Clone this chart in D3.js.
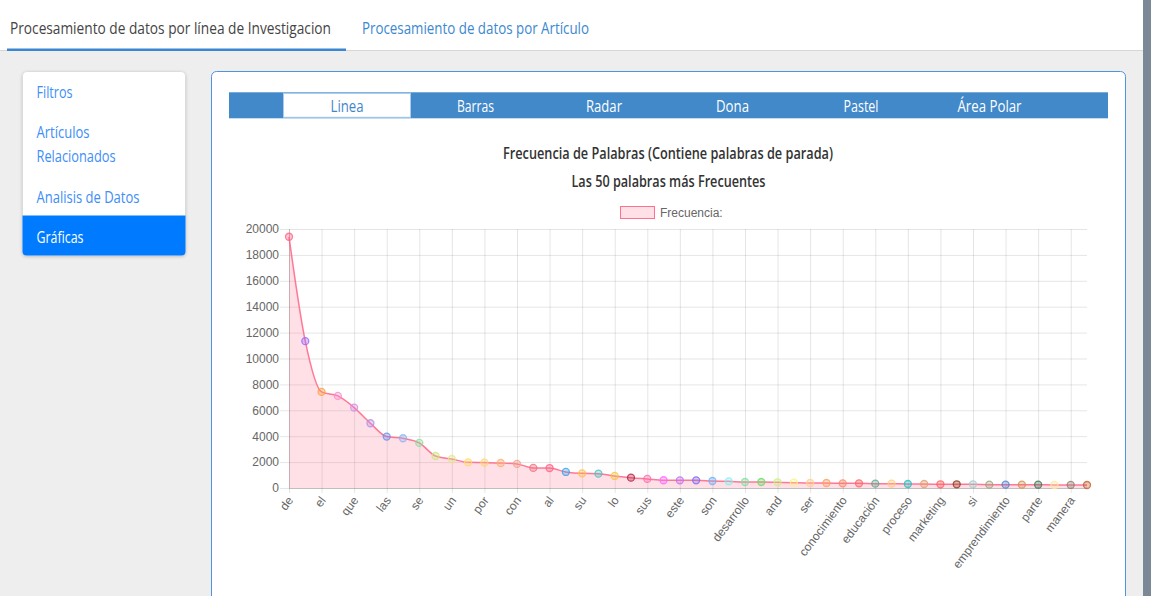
<!DOCTYPE html>
<html>
<head>
<meta charset="utf-8">
<script src="https://cdn.jsdelivr.net/npm/d3@7"></script>
<style>
	body { margin: 0; overflow: hidden; background: #fff; }
	svg { display: block; }
	.ui text { font-family: "Open Sans", "Noto Sans", sans-serif; }
	.chart text { font-family: "Liberation Sans", Arial, sans-serif; }
	.chart .domain { display: none; }
</style>
</head>
<body>
<svg id="page" width="1151" height="596"></svg>
<script>
(function () {

	var navTabs = ["Procesamiento de datos por línea de Investigacion", "Procesamiento de datos por Artículo"];
	var sideItems = ["Filtros", "Artículos", "Relacionados", "Analisis de Datos", "Gráficas"];
	var chartTypes = ["Linea", "Barras", "Radar", "Dona", "Pastel", "Área Polar"];
	var chartTitle = "Frecuencia de Palabras (Contiene palabras de parada)";
	var chartSubtitle = "Las 50 palabras más Frecuentes";
	var seriesName = "Frecuencia:";

	var words = ["de", "la", "el", "en", "que", "y", "las", "los", "se", "a",
		"un", "una", "por", "del", "con", "para", "al", "es", "su", "como",
		"lo", "más", "sus", "o", "este", "entre", "son", "investigación", "desarrollo", "the",
		"and", "of", "ser", "esta", "conocimiento", "estudio", "educación", "también", "proceso", "to",
		"marketing", "sobre", "si", "empresas", "emprendimiento", "social", "parte", "sistema", "manera", "información"];
	var counts = [19400, 11340, 7420, 7110, 6210, 5000, 3970, 3840, 3480, 2470,
		2240, 1980, 1960, 1930, 1860, 1550, 1540, 1240, 1130, 1110,
		930, 800, 700, 600, 590, 590, 540, 515, 465, 465,
		440, 410, 385, 385, 360, 360, 335, 335, 310, 310,
		285, 285, 285, 260, 260, 258, 255, 235, 235, 230];
	var yTicks = [0, 2000, 4000, 6000, 8000, 10000, 12000, 14000, 16000, 18000, 20000];

	// colores de los puntos (uno por palabra)
	var pointColors = ["#ff6384", "#9966ff", "#ff9f40", "#f58fd0", "#d58ee8", "#b48ee8", "#6c8ef0", "#8db4f5", "#88e0a0", "#c8e880",
		"#e0e890", "#ffd966", "#ffd470", "#ffb070", "#f5a08a", "#f07080", "#ff6384", "#36a2eb", "#ffc04d", "#4bc0c0",
		"#f5c542", "#b0203f", "#ff6bb0", "#ff66ff", "#c070f0", "#7b68ee", "#6fb1f7", "#7ff0f0", "#7ee0a0", "#66dd66",
		"#c8f080", "#fff080", "#ffd090", "#ffa060", "#ff8866", "#ff6060", "#5aa890", "#ffcc80", "#20c0c0", "#e0a070",
		"#ff6060", "#8b3a1a", "#a0d0d0", "#a0a080", "#5080d0", "#d09050", "#407050", "#ffe89a", "#908070", "#c06030"];

	var svg = d3.select("#page");
	var ui = svg.append("g").attr("class", "ui");

	function fit(sel, w) {
		return sel.attr("textLength", w).attr("lengthAdjust", "spacingAndGlyphs");
	}

	// fondo de la página
	ui.append("rect").attr("x", 0).attr("y", 0).attr("width", 1151).attr("height", 596).attr("fill", "#fff");
	ui.append("rect").attr("x", 0).attr("y", 51).attr("width", 1143).attr("height", 545).attr("fill", "#eeeeee");
	ui.append("line").attr("x1", 0).attr("x2", 1143).attr("y1", 50.5).attr("y2", 50.5).attr("stroke", "#d6d6d6");
	ui.append("rect").attr("x", 7).attr("y", 48.5).attr("width", 339).attr("height", 2.5).attr("fill", "#3b86d1");
	ui.append("rect").attr("x", 1143).attr("y", 0).attr("width", 8).attr("height", 596).attr("fill", "#7b8996");

	fit(ui.append("text").attr("x", 10).attr("y", 33.5).attr("font-size", 16).attr("fill", "#444").text(navTabs[0]), 321);
	fit(ui.append("text").attr("x", 362).attr("y", 33.5).attr("font-size", 16).attr("fill", "#3c88d0").text(navTabs[1]), 227);

	// menú lateral
	var defs = svg.append("defs");
	var sh = defs.append("filter").attr("id", "sh").attr("x", "-10%").attr("y", "-10%").attr("width", "120%").attr("height", "120%");
	sh.append("feDropShadow").attr("dx", 0).attr("dy", 1).attr("stdDeviation", 1.5).attr("flood-color", "#000").attr("flood-opacity", 0.18);

	ui.append("rect").attr("x", 22.5).attr("y", 71.5).attr("width", 163).attr("height", 184).attr("rx", 4)
		.attr("fill", "#fff").attr("stroke", "#dcdcdc").attr("filter", "url(#sh)");
	ui.append("path").attr("d", "M22.5,215.5H185.5V251.5Q185.5,255.5 181.5,255.5H26.5Q22.5,255.5 22.5,251.5Z").attr("fill", "#007bff");

	var sideY = [97.5, 137.5, 161.5, 202.5, 242.5];
	var sideW = [36, 53, 79, 103, 47];
	sideItems.forEach(function (t, i) {
		fit(ui.append("text").attr("x", 36.5).attr("y", sideY[i]).attr("font-size", 16)
			.attr("fill", i == 4 ? "#fff" : "#3d8ef8").text(t), sideW[i]);
	});

	// tarjeta principal
	ui.append("rect").attr("x", 211.5).attr("y", 71.5).attr("width", 914).attr("height", 620).attr("rx", 5)
		.attr("fill", "#fff").attr("stroke", "#4f95dc");
	ui.append("rect").attr("x", 229).attr("y", 92.3).attr("width", 879).attr("height", 26).attr("fill", "#4189c9");
	ui.append("rect").attr("x", 283.5).attr("y", 93.3).attr("width", 127).attr("height", 24).attr("fill", "#fff").attr("stroke", "#a9cbed");

	var typeW = [33, 37, 36, 33, 35, 64];
	chartTypes.forEach(function (t, i) {
		fit(ui.append("text").attr("x", 347 + i * 128.5).attr("y", 111.5).attr("font-size", 15.5)
			.attr("text-anchor", "middle").attr("fill", i == 0 ? "#3f87c9" : "#fff").text(t), typeW[i]);
	});

	fit(ui.append("text").attr("x", 668).attr("y", 158.5).attr("font-size", 15.5).attr("font-weight", 600)
		.attr("text-anchor", "middle").attr("fill", "#333").text(chartTitle), 330);
	fit(ui.append("text").attr("x", 668.5).attr("y", 187).attr("font-size", 15.5).attr("font-weight", 600)
		.attr("text-anchor", "middle").attr("fill", "#333").text(chartSubtitle), 194);

	// gráfica
	var chart = svg.append("g").attr("class", "chart");
	var left = 289, right = 1087, top = 229, bottom = 488;

	var x = d3.scalePoint().domain(words).range([left, right]);
	var y = d3.scaleLinear().domain([0, 20000]).range([bottom, top]);
	var shown = words.filter(function (d, i) { return i % 2 == 0; });

	// leyenda
	chart.append("rect").attr("x", 620.5).attr("y", 206.5).attr("width", 34).attr("height", 12)
		.attr("fill", "rgba(255,99,132,0.2)").attr("stroke", "rgba(255,99,132,0.9)");
	chart.append("text").attr("x", 660).attr("y", 213).attr("dy", "0.35em").attr("font-size", 12)
		.attr("fill", "#666").text(seriesName);

	// rejilla
	chart.append("g").attr("transform", "translate(" + left + ",0)")
		.call(d3.axisLeft(y).tickValues(yTicks).tickSize(-(right - left)).tickFormat(""))
		.selectAll("line").attr("stroke", d => d == 0 ? "rgba(0,0,0,0.25)" : "rgba(0,0,0,0.1)");
	chart.append("g").attr("transform", "translate(0," + bottom + ")")
		.call(d3.axisBottom(x).tickValues(shown).tickSize(-(bottom - top)).tickFormat(""))
		.selectAll("line").attr("stroke", d => d == words[0] ? "rgba(0,0,0,0.25)" : "rgba(0,0,0,0.1)");

	var yAxis = chart.append("g").attr("transform", "translate(" + left + ",0)")
		.call(d3.axisLeft(y).tickValues(yTicks).tickSize(9).tickPadding(1).tickFormat(d3.format("d")));
	yAxis.selectAll("line").attr("stroke", "rgba(0,0,0,0.1)");
	yAxis.selectAll("text").attr("font-size", 12).attr("fill", "#666").attr("font-family", "Liberation Sans, Arial, sans-serif");

	var xAxis = chart.append("g").attr("transform", "translate(0," + bottom + ")")
		.call(d3.axisBottom(x).tickValues(shown).tickSize(5).tickPadding(0));
	xAxis.selectAll("line").attr("stroke", "rgba(0,0,0,0.1)");
	xAxis.selectAll("text")
		.attr("font-size", 12).attr("fill", "#666").attr("font-family", "Liberation Sans, Arial, sans-serif")
		.attr("text-anchor", "end")
		.attr("y", 0).attr("dy", "0.35em")
		.attr("transform", "translate(1,10) rotate(-53)");

	var data = words.map(function (w, i) { return { w: w, v: counts[i], c: pointColors[i] }; });

	chart.append("path").datum(data)
		.attr("fill", "rgba(255,99,132,0.2)")
		.attr("d", d3.area().x(d => x(d.w)).y0(y(0)).y1(d => y(d.v)).curve(d3.curveMonotoneX));
	chart.append("path").datum(data)
		.attr("fill", "none").attr("stroke", "rgba(255,99,132,0.85)").attr("stroke-width", 1.5)
		.attr("d", d3.line().x(d => x(d.w)).y(d => y(d.v)).curve(d3.curveMonotoneX));

	chart.selectAll(".pt").data(data).enter()
		.append("circle").attr("class", "pt")
		.attr("cx", d => x(d.w)).attr("cy", d => y(d.v)).attr("r", 3.5)
		.attr("fill", d => d.c).attr("fill-opacity", 0.35)
		.attr("stroke", d => d.c).attr("stroke-opacity", 0.8).attr("stroke-width", 1.3);

}());
</script>
</body>
</html>
